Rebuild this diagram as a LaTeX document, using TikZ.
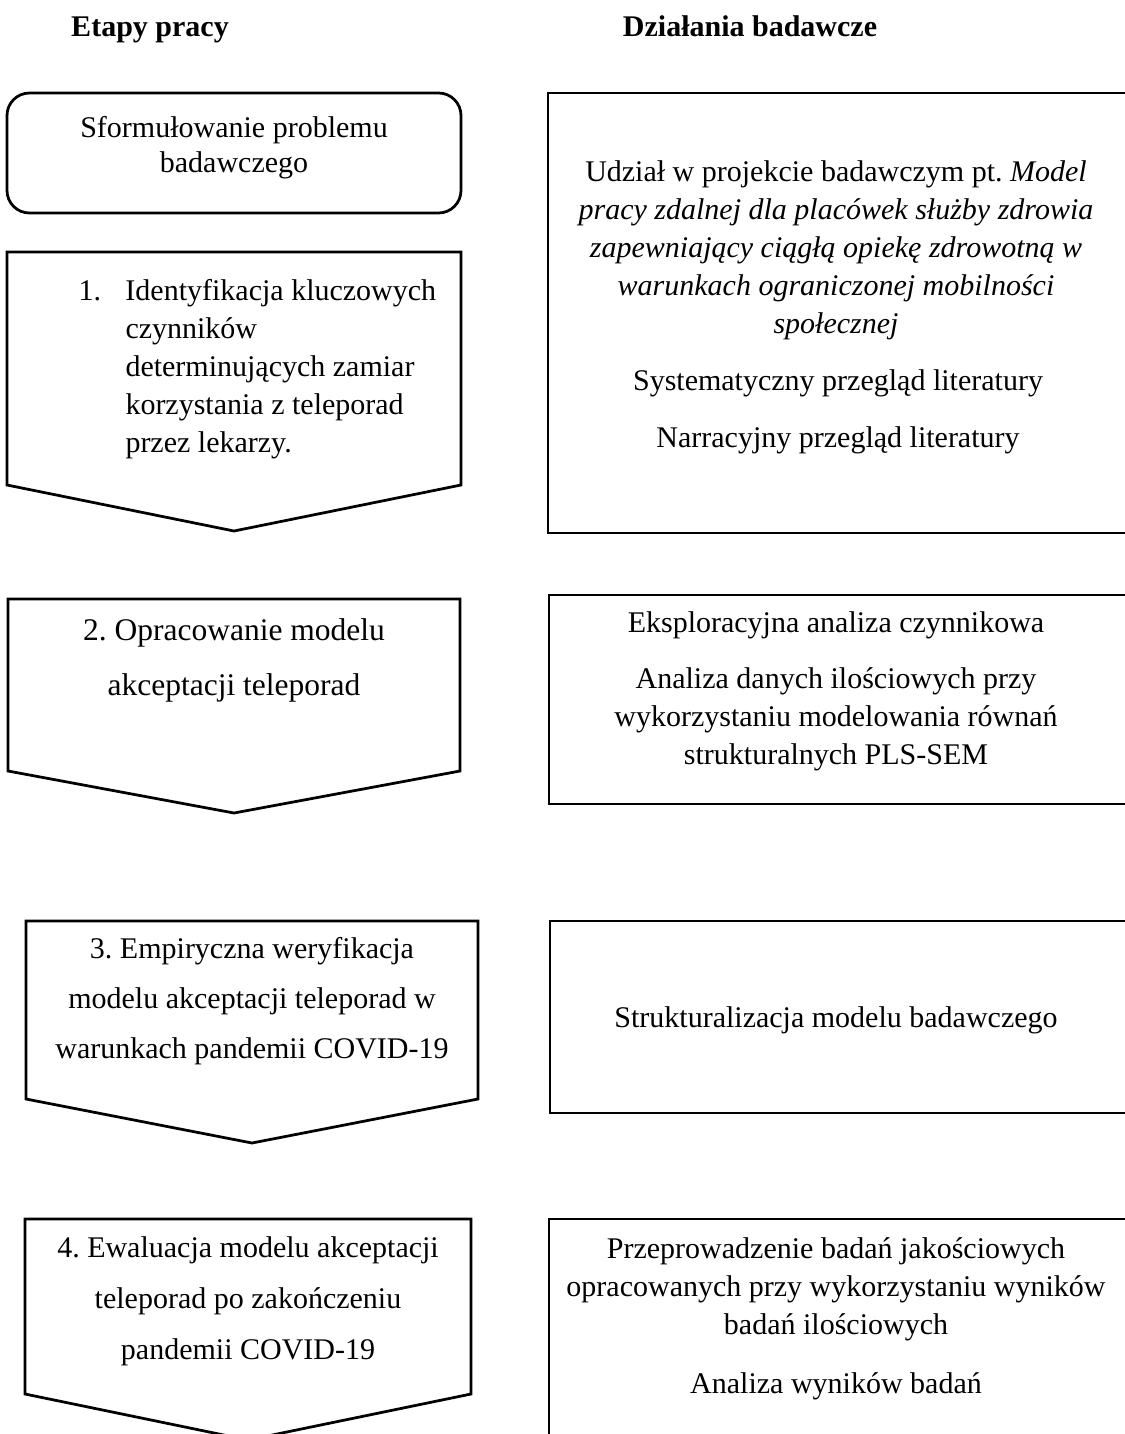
\documentclass[tikz,border=0pt]{standalone}
\usepackage{fontspec}
\setmainfont{Liberation Serif}
\newlength{\numindent}
\setlength{\numindent}{18.8pt}
\begin{document}
\begin{tikzpicture}[x=0.4pt,y=-0.4pt,
  outline/.style={draw=black,line width=1.1pt,line join=miter},
  body/.style={font=\fontsize{12}{15.2}\selectfont\frenchspacing,align=center,inner sep=0pt},
  head/.style={font=\fontsize{12}{14}\selectfont\bfseries,inner sep=0pt,anchor=base}]
\useasboundingbox (0,0) rectangle (1125,1434);
\clip (0,0) rectangle (1125,1434);

% column headings
\node[head] (hleft)  at (150,36) {Etapy pracy};
\node[head] (hright) at (750,36) {Działania badawcze};

% left column: problem statement and the four stages
\draw[outline,rounded corners=9pt] (7,93) rectangle (461,213);
\node[body,font=\fontsize{12}{14}\selectfont] (problem) at (234,148)
  {Sformułowanie problemu\\badawczego};

\draw[outline] (7,252) -- (461,252) -- (461,485) -- (234,531) -- (7,485) -- cycle;
\node[body,align=left,anchor=west] (stage1) at (78,369)
  {\makebox[\numindent][l]{1.}Identyfikacja kluczowych\\
   \hspace*{\numindent}czynników\\
   \hspace*{\numindent}determinujących zamiar\\
   \hspace*{\numindent}korzystania z teleporad\\
   \hspace*{\numindent}przez lekarzy.};

\draw[outline] (8,599) -- (460,599) -- (460,771) -- (234,813) -- (8,771) -- cycle;
\node[body,font=\fontsize{12.6}{22}\selectfont\frenchspacing] (stage2) at (234,660)
  {2. Opracowanie modelu\\akceptacji teleporad};

\draw[outline] (26,921) -- (478,921) -- (478,1099) -- (252,1143) -- (26,1099) -- cycle;
\node[body,font=\fontsize{12}{20}\selectfont\frenchspacing] (stage3) at (252,1001)
  {3. Empiryczna weryfikacja\\modelu akceptacji teleporad w\\warunkach pandemii COVID-19};

\draw[outline] (25,1219) -- (471,1219) -- (471,1394) -- (248,1440) -- (25,1394) -- cycle;
\node[body,font=\fontsize{12}{20.4}\selectfont\frenchspacing] (stage4) at (248,1301)
  {4. Ewaluacja modelu akceptacji\\teleporad po zakończeniu\\pandemii COVID-19};

% right column: research activities
\draw[outline] (548,93) rectangle (1130,533);
\node[body] (act1a) at (836,250)
  {Udział w projekcie badawczym pt. \textit{Model}\\\textit{pracy zdalnej dla placówek służby zdrowia}\\\textit{zapewniający ciągłą opiekę zdrowotną w}\\\textit{warunkach ograniczonej mobilności}\\\textit{społecznej}};
\node[body] (act1b) at (838,383) {Systematyczny przegląd literatury};
\node[body] (act1c) at (838,440) {Narracyjny przegląd literatury};

\draw[outline] (549,595) rectangle (1130,804);
\node[body] (act2a) at (836,625) {Eksploracyjna analiza czynnikowa};
\node[body] (act2b) at (836,719)
  {Analiza danych ilościowych przy\\wykorzystaniu modelowania równań\\strukturalnych PLS-SEM};

\draw[outline] (550,921) rectangle (1130,1113);
\node[body] (act3) at (836,1020) {Strukturalizacja modelu badawczego};

\draw[outline] (549,1219) rectangle (1130,1460);
\node[body] (act4a) at (836,1289)
  {Przeprowadzenie badań jakościowych\\opracowanych przy wykorzystaniu wyników\\badań ilościowych};
\node[body] (act4b) at (836,1386) {Analiza wyników badań};
\end{tikzpicture}
\end{document}
